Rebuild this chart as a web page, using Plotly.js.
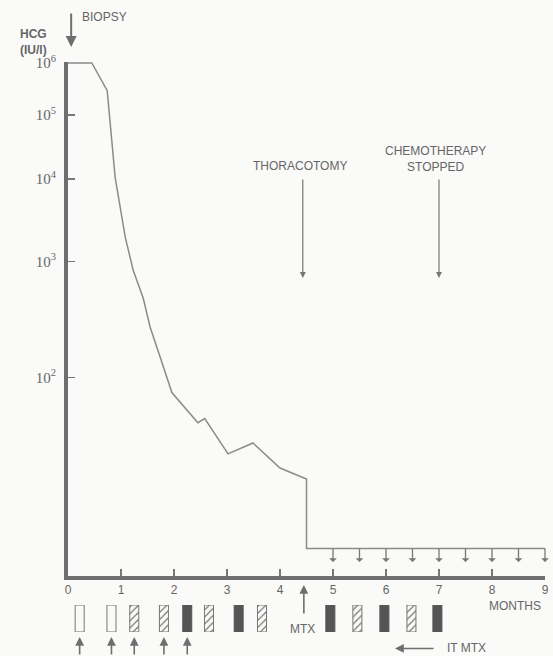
<!DOCTYPE html>
<html>
<head>
<meta charset="utf-8">
<script src="https://cdn.plot.ly/plotly-3.0.1.min.js"></script>
<style>html,body{margin:0;padding:0;background:#fafaf8;}#chart{width:553px;height:656px;}</style>
</head>
<body>
<div id="chart"></div>
<script>
// HCG course (months after biopsy, IU/l)
const months = [0, 0.45, 0.74, 0.89, 1.08, 1.23, 1.42, 1.55, 1.74, 1.96, 2.45, 2.58, 3.02, 3.49, 4.0, 4.5, 4.5, 9.0];
const hcg = [1e6, 1e6, 2.8e5, 1.05e4, 1840, 811, 434, 242, 140, 79, 51, 54, 34, 39, 28.7, 25.3, 12.6, 12.6];
// samples below detection limit
const undetectLevel = 12.6;
const belowMonths = [5, 5.5, 6, 6.5, 7, 7.5, 8, 8.5, 9];
// y tick values (IU/l)
const yTickValues = [1e2, 1e3, 1e4, 1e5, 1e6];
const yTickText = ['10<sup>2</sup>', '10<sup>3</sup>', '10<sup>4</sup>', '10<sup>5</sup>', '10<sup>6</sup>'];
const xTicks = [0, 1, 2, 3, 4, 5, 6, 7, 8, 9];
// chemotherapy courses
const openMonths = [0.22, 0.82];
const hatchMonths = [1.25, 1.81, 2.66, 3.66, 5.46, 6.48];
const filledMonths = [2.25, 3.22, 4.95, 5.97, 6.97];
const itMtxMonths = [0.22, 0.82, 1.25, 1.81, 2.25];
// events
const biopsyMonth = 0.06;
const thoracotomyMonth = 4.43;
const chemoStopMonth = 7.0;
const mtxMonth = 4.45;

const ink = '#6e6e6e';
const bg = '#fafaf8';
const L = v => Math.log10(v);

const traces = [
  {x: months, y: hcg.map(L), type: 'scatter', mode: 'lines',
   line: {color: '#8a8a8a', width: 1.5}, hoverinfo: 'skip', cliponaxis: false},
  {x: openMonths, y: openMonths.map(() => 1), base: 0, type: 'bar', width: 0.17,
   xaxis: 'x', yaxis: 'y2',
   marker: {color: bg, line: {color: '#777', width: 1}}},
  {x: hatchMonths, y: hatchMonths.map(() => 1), base: 0, type: 'bar', width: 0.17,
   xaxis: 'x', yaxis: 'y2',
   marker: {color: bg, line: {color: '#777', width: 1},
            pattern: {shape: '/', fgcolor: '#777', bgcolor: bg, size: 5, solidity: 0.25}}},
  {x: filledMonths, y: filledMonths.map(() => 1), base: 0, type: 'bar', width: 0.17,
   xaxis: 'x', yaxis: 'y2',
   marker: {color: '#555', line: {color: '#555', width: 1}}}
];

const font = {family: 'Liberation Sans, Arial, sans-serif', size: 12, color: '#666'};
const ann = [];
belowMonths.forEach(m => ann.push({
  x: m, y: Math.log10(L(undetectLevel)), xref: 'x', yref: 'y', text: '',
  showarrow: true, ax: 0, ay: 15, arrowside: 'start', arrowhead: 2, arrowsize: 1,
  arrowwidth: 1.3, arrowcolor: '#777'
}));
// biopsy
ann.push({x: biopsyMonth, y: 0.9284, xref: 'x', yref: 'paper', text: '', showarrow: true,
  ax: 0, ay: -35, arrowhead: 2, arrowsize: 1.1, arrowwidth: 2, arrowcolor: ink});
ann.push({x: 0.23, y: 0.974, xref: 'x', yref: 'paper', text: 'BIOPSY', showarrow: false,
  xanchor: 'left', yanchor: 'middle', font: font});
ann.push({x: -0.0713, y: 0.9367, xref: 'paper', yref: 'paper', text: '<b>HCG</b><br><b>(IU/l)</b>',
  showarrow: false, xanchor: 'center', yanchor: 'middle', font: {family: font.family, size: 12, color: '#666'}});
// thoracotomy
ann.push({x: thoracotomyMonth, y: 0.5762, xref: 'x', yref: 'paper', text: '', showarrow: true,
  ax: 0, ay: -100, arrowhead: 2, arrowsize: 1, arrowwidth: 1.2, arrowcolor: '#777'});
ann.push({x: 4.38, y: 0.747, xref: 'x', yref: 'paper', text: 'THORACOTOMY', showarrow: false,
  xanchor: 'center', yanchor: 'middle', font: font});
// chemo stopped
ann.push({x: chemoStopMonth, y: 0.5762, xref: 'x', yref: 'paper', text: '', showarrow: true,
  ax: 0, ay: -100, arrowhead: 2, arrowsize: 1, arrowwidth: 1.2, arrowcolor: '#777'});
ann.push({x: 6.94, y: 0.757, xref: 'x', yref: 'paper', text: 'CHEMOTHERAPY<br>STOPPED', showarrow: false,
  xanchor: 'center', yanchor: 'middle', font: font});
// MTX
ann.push({x: mtxMonth, y: 0.1082, xref: 'x', yref: 'paper', text: '', showarrow: true,
  ax: 0, ay: 30, arrowhead: 2, arrowsize: 1.1, arrowwidth: 1.6, arrowcolor: ink});
ann.push({x: 4.42, y: 0.0412, xref: 'x', yref: 'paper', text: 'MTX', showarrow: false,
  xanchor: 'center', yanchor: 'middle', font: font});
ann.push({x: 8.96, y: 0.0762, xref: 'x', yref: 'paper', text: 'MONTHS', showarrow: false,
  xanchor: 'right', yanchor: 'middle', font: font});
// IT MTX
itMtxMonths.forEach(m => ann.push({x: m, y: 0.029, xref: 'x', yref: 'paper', text: '', showarrow: true,
  ax: 0, ay: 25, arrowhead: 2, arrowsize: 1.1, arrowwidth: 1.6, arrowcolor: ink}));
ann.push({x: 6.17, y: 0.0115, xref: 'x', yref: 'paper', text: '', showarrow: true,
  ax: 40, ay: 0, arrowhead: 2, arrowsize: 1.1, arrowwidth: 1.6, arrowcolor: ink});
ann.push({x: 7.11, y: 0.0115, xref: 'x', yref: 'paper', text: 'IT MTX', showarrow: false,
  xanchor: 'left', yanchor: 'middle', font: font});

const layout = {
  width: 553, height: 656,
  margin: {l: 68, r: 8, t: 0, b: 0},
  paper_bgcolor: bg, plot_bgcolor: bg,
  showlegend: false,
  font: font,
  bargap: 0,
  xaxis: {range: [0, 9], tickvals: xTicks, ticks: 'inside', ticklen: 7, tickwidth: 1.5,
          tickcolor: '#777', showline: true, linewidth: 4, linecolor: ink,
          showgrid: false, zeroline: false, anchor: 'y',
          tickfont: {family: font.family, size: 12, color: '#666'}},
  yaxis: {type: 'log', domain: [0.122, 0.9055], range: [0, L(6.02)],
          tickvals: yTickValues.map(L), ticktext: yTickText,
          ticks: 'inside', ticklen: 7, tickwidth: 1.5, tickcolor: '#777',
          showline: true, linewidth: 4, linecolor: ink, showgrid: false, zeroline: false,
          ticklabelstandoff: 5,
          tickfont: {family: 'Liberation Serif, serif', size: 15, color: '#666'}},
  yaxis2: {domain: [0.0366, 0.0777], range: [0, 1], visible: false, anchor: 'x', fixedrange: true},
  annotations: ann
};

Plotly.newPlot('chart', traces, layout, {staticPlot: true});
</script>
</body>
</html>
